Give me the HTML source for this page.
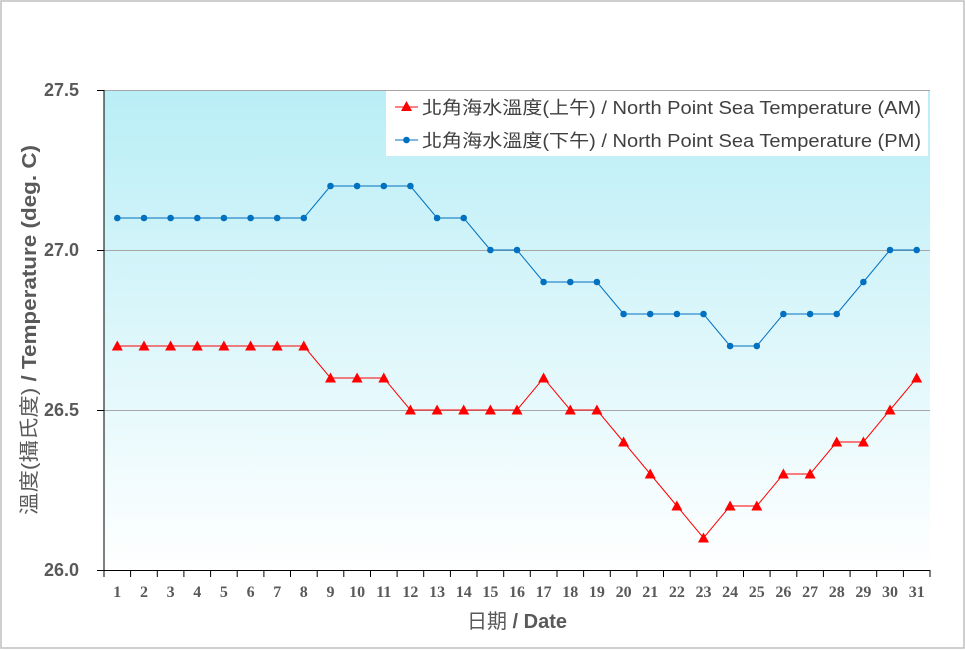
<!DOCTYPE html>
<html><head><meta charset="utf-8"><style>
html,body{margin:0;padding:0;background:#fff}
svg{display:block}
</style></head><body>
<svg width="965" height="650" xmlns="http://www.w3.org/2000/svg">
<defs>
<linearGradient id="bg" x1="0" y1="0" x2="0" y2="1">
<stop offset="0" stop-color="#b9eef6"/>
<stop offset="1" stop-color="#ffffff"/>
</linearGradient>
<marker id="tri" viewBox="-6 -6 12 12" markerWidth="12" markerHeight="12" markerUnits="userSpaceOnUse" refX="0" refY="0"><path d="M0,-5.5 L5.5,4.5 L-5.5,4.5 Z" fill="#ff0000"/></marker>
<marker id="dot" viewBox="-4 -4 8 8" markerWidth="8" markerHeight="8" markerUnits="userSpaceOnUse" refX="0" refY="0"><circle r="3.3" fill="#0070c0"/></marker>
</defs>
<rect x="1" y="1" width="963" height="647" fill="#fff" stroke="#bfbfbf" stroke-width="1.5"/>
<rect x="104" y="90" width="826" height="480" fill="url(#bg)"/>
<line x1="104" y1="90.5" x2="930" y2="90.5" stroke="#a6a6a6"/>
<line x1="104" y1="250.5" x2="930" y2="250.5" stroke="#a6a6a6"/>
<line x1="104" y1="410.5" x2="930" y2="410.5" stroke="#a6a6a6"/>
<line x1="104" y1="90" x2="104" y2="570" stroke="#000"/>
<line x1="97" y1="570.5" x2="930" y2="570.5" stroke="#000"/>
<g stroke="#000">
<line x1="97" y1="90.5" x2="104" y2="90.5"/><line x1="97" y1="250.5" x2="104" y2="250.5"/><line x1="97" y1="410.5" x2="104" y2="410.5"/>
</g>
<g stroke="#000">
<line x1="104" y1="570" x2="104" y2="577"/><line x1="130.6" y1="570" x2="130.6" y2="577"/><line x1="157.3" y1="570" x2="157.3" y2="577"/><line x1="183.9" y1="570" x2="183.9" y2="577"/><line x1="210.6" y1="570" x2="210.6" y2="577"/><line x1="237.2" y1="570" x2="237.2" y2="577"/><line x1="263.9" y1="570" x2="263.9" y2="577"/><line x1="290.5" y1="570" x2="290.5" y2="577"/><line x1="317.2" y1="570" x2="317.2" y2="577"/><line x1="343.8" y1="570" x2="343.8" y2="577"/><line x1="370.5" y1="570" x2="370.5" y2="577"/><line x1="397.1" y1="570" x2="397.1" y2="577"/><line x1="423.7" y1="570" x2="423.7" y2="577"/><line x1="450.4" y1="570" x2="450.4" y2="577"/><line x1="477" y1="570" x2="477" y2="577"/><line x1="503.7" y1="570" x2="503.7" y2="577"/><line x1="530.3" y1="570" x2="530.3" y2="577"/><line x1="557" y1="570" x2="557" y2="577"/><line x1="583.6" y1="570" x2="583.6" y2="577"/><line x1="610.3" y1="570" x2="610.3" y2="577"/><line x1="636.9" y1="570" x2="636.9" y2="577"/><line x1="663.5" y1="570" x2="663.5" y2="577"/><line x1="690.2" y1="570" x2="690.2" y2="577"/><line x1="716.8" y1="570" x2="716.8" y2="577"/><line x1="743.5" y1="570" x2="743.5" y2="577"/><line x1="770.1" y1="570" x2="770.1" y2="577"/><line x1="796.8" y1="570" x2="796.8" y2="577"/><line x1="823.4" y1="570" x2="823.4" y2="577"/><line x1="850.1" y1="570" x2="850.1" y2="577"/><line x1="876.7" y1="570" x2="876.7" y2="577"/><line x1="903.4" y1="570" x2="903.4" y2="577"/><line x1="930" y1="570" x2="930" y2="577"/>
</g>
<g font-family="Liberation Sans, sans-serif" font-weight="bold" font-size="18" fill="#595959" text-anchor="end">
<text x="79" y="96">27.5</text><text x="79" y="256">27.0</text><text x="79" y="416">26.5</text><text x="79" y="576">26.0</text>
</g>
<g font-family="Liberation Serif, serif" font-weight="bold" font-size="16" fill="#595959" text-anchor="middle">
<text x="117.3" y="597">1</text><text x="144" y="597">2</text><text x="170.6" y="597">3</text><text x="197.3" y="597">4</text><text x="223.9" y="597">5</text><text x="250.6" y="597">6</text><text x="277.2" y="597">7</text><text x="303.8" y="597">8</text><text x="330.5" y="597">9</text><text x="357.1" y="597">10</text><text x="383.8" y="597">11</text><text x="410.4" y="597">12</text><text x="437.1" y="597">13</text><text x="463.7" y="597">14</text><text x="490.4" y="597">15</text><text x="517" y="597">16</text><text x="543.6" y="597">17</text><text x="570.3" y="597">18</text><text x="596.9" y="597">19</text><text x="623.6" y="597">20</text><text x="650.2" y="597">21</text><text x="676.9" y="597">22</text><text x="703.5" y="597">23</text><text x="730.1" y="597">24</text><text x="756.8" y="597">25</text><text x="783.4" y="597">26</text><text x="810.1" y="597">27</text><text x="836.7" y="597">28</text><text x="863.4" y="597">29</text><text x="890" y="597">30</text><text x="916.7" y="597">31</text>
</g>
<text x="517" y="628" text-anchor="middle" font-family="Liberation Sans, 'Noto Sans CJK TC', sans-serif" font-size="20" fill="#595959"><tspan>日期</tspan><tspan font-weight="bold"> / Date</tspan></text>
<text transform="translate(36,330) rotate(-90)" text-anchor="middle" font-family="Liberation Sans, 'Noto Sans CJK TC', sans-serif" font-size="20" fill="#595959" textLength="370" lengthAdjust="spacingAndGlyphs"><tspan>溫度(攝氏度)</tspan><tspan font-weight="bold"> / Temperature (deg. C)</tspan></text>
<polyline fill="none" stroke="#ff0000" stroke-width="1" marker-start="url(#tri)" marker-mid="url(#tri)" marker-end="url(#tri)" points="117.3,346 144,346 170.6,346 197.3,346 223.9,346 250.6,346 277.2,346 303.8,346 330.5,378 357.1,378 383.8,378 410.4,410 437.1,410 463.7,410 490.4,410 517,410 543.6,378 570.3,410 596.9,410 623.6,442 650.2,474 676.9,506 703.5,538 730.1,506 756.8,506 783.4,474 810.1,474 836.7,442 863.4,442 890,410 916.7,378"/>
<polyline fill="none" stroke="#0070c0" stroke-width="1" marker-start="url(#dot)" marker-mid="url(#dot)" marker-end="url(#dot)" points="117.3,218 144,218 170.6,218 197.3,218 223.9,218 250.6,218 277.2,218 303.8,218 330.5,186 357.1,186 383.8,186 410.4,186 437.1,218 463.7,218 490.4,250 517,250 543.6,282 570.3,282 596.9,282 623.6,314 650.2,314 676.9,314 703.5,314 730.1,346 756.8,346 783.4,314 810.1,314 836.7,314 863.4,282 890,250 916.7,250"/>
<rect x="386" y="91" width="542" height="65" fill="#fff"/>
<line x1="395" y1="107" x2="418" y2="107" stroke="#ff0000"/>
<path d="M406.5,101 L412,111 L401,111 Z" fill="#ff0000"/>
<line x1="395" y1="140" x2="418" y2="140" stroke="#0070c0"/>
<circle cx="406.5" cy="140" r="3.3" fill="#0070c0"/>
<g font-family="Liberation Sans, 'Noto Sans CJK TC', sans-serif" font-size="18" fill="#404040">
<text x="422" y="114" textLength="499" lengthAdjust="spacingAndGlyphs">北角海水溫度(上午) / North Point Sea Temperature (AM)</text>
<text x="422" y="147" textLength="499" lengthAdjust="spacingAndGlyphs">北角海水溫度(下午) / North Point Sea Temperature (PM)</text>
</g>
</svg>
</body></html>
